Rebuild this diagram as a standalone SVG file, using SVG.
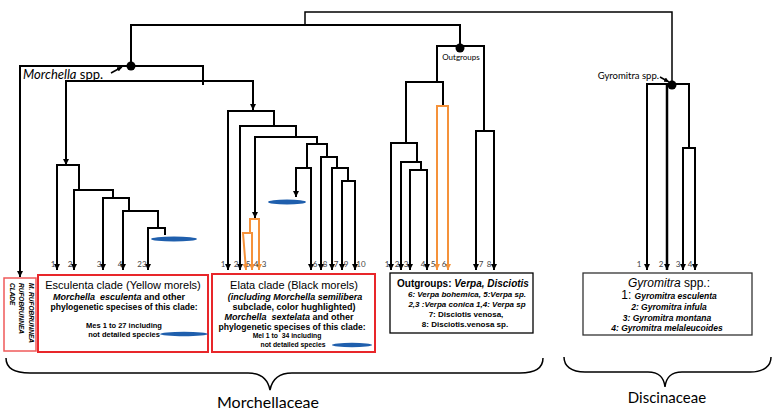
<svg xmlns="http://www.w3.org/2000/svg" width="779" height="411" viewBox="0 0 779 411">
<style>
.ln{fill:none;stroke:#000;stroke-width:2}
.lt{fill:none;stroke:#000;stroke-width:1.5}
.a{marker-end:url(#ah)}
.or{fill:none;stroke:#f5923a;stroke-width:2;marker-end:url(#ao)}
.lab{font-family:Lato,"Open Sans",sans-serif;font-size:8px;fill:#444;text-anchor:middle}
.box{font-family:"Liberation Sans",Arial,sans-serif;text-anchor:middle;fill:#000}
.b{font-weight:bold}
.i{font-style:italic}
.dot{fill:#000}
.blue{fill:#1f5fad}
</style>
<defs>
<marker id="ah" viewBox="0 0 8 8" refX="8" refY="4" markerWidth="6" markerHeight="6" orient="auto" markerUnits="userSpaceOnUse"><path d="M0,0 L8,4 L0,8 z" fill="#000"/></marker>
<marker id="ao" viewBox="0 0 8 8" refX="8" refY="4" markerWidth="6" markerHeight="6" orient="auto" markerUnits="userSpaceOnUse"><path d="M0,0 L8,4 L0,8 z" fill="#f5923a"/></marker>
<marker id="as" viewBox="0 0 8 8" refX="8" refY="4" markerWidth="5" markerHeight="5" orient="auto" markerUnits="userSpaceOnUse"><path d="M0,0 L8,4 L0,8 z" fill="#000"/></marker>
</defs>

<g id="connectors">
  <!-- top level -->
  <path class="lt" d="M305,25 V12 H672 V85"/>
  <path class="ln" d="M131,66 V25 H460 V48"/>
  <!-- Morchella -->
  <path class="ln a" d="M203,85 V66 H20 V277"/>
  <path class="ln a" d="M160,81 H66 V165"/>
  <path class="ln a" d="M160,81 H253 V110"/>
  <!-- Esculenta -->
  <path class="ln a" d="M79,190 V165 H57 V270"/>
  <path class="ln a" d="M113,198 V190 H74 V270"/>
  <path class="ln a" d="M129,211 V198 H103 V270"/>
  <path class="ln a" d="M158,228 V211 H123 V270"/>
  <path class="ln a" d="M165,235 V228 H148 V270"/>
  <!-- Elata -->
  <path class="ln a" d="M274,126 V111 H228 V270"/>
  <path class="ln a" d="M296,137 V126 H240 V270"/>
  <path class="ln a" d="M317,144 V137 H255 V218"/>
  <path class="ln" d="M327,157 V144 H307 V168"/>
  <path class="ln a" d="M303,168 H296 V197"/>
  <path class="ln a" d="M303,168 H311 V270"/>
  <path class="ln a" d="M337,168 V157 H321 V270"/>
  <path class="ln a" d="M348,181 V168 H332 V270"/>
  <path class="ln a" d="M348,181 H342 V270"/>
  <path class="ln a" d="M348,181 H355 V270"/>
  <path class="or" d="M250,233 V219 H259 V270"/>
  <path class="or" d="M248,233 H243 L246,270"/>
  <path class="or" d="M248,233 H252 V270"/>
  <!-- Outgroups -->
  <path class="ln" d="M437,82 V46 H484 V131"/>
  <path class="ln" d="M443,106 V82 H406 V143"/>
  <path class="or" d="M442,106 H437 V270"/>
  <path class="or" d="M442,106 H448 V270"/>
  <path class="ln a" d="M417,162 V143 H391 V270"/>
  <path class="ln a" d="M421,170 V162 H401 V270"/>
  <path class="ln a" d="M418,170 H410 V270"/>
  <path class="ln a" d="M418,170 H427 V270"/>
  <path class="ln a" d="M485,131 H476 V270"/>
  <path class="ln a" d="M485,131 H494 V270"/>
  <!-- Gyromitra -->
  <path class="ln a" d="M667,84 H647 V270"/>
  <path class="ln a" d="M667,84 V270" style="stroke-width:2.5"/>
  <path class="ln" d="M667,84 H689 V148"/>
  <path class="ln a" d="M689,148 H683 V270"/>
  <path class="ln a" d="M689,148 H695 V270"/>
  <!-- label pointers -->
  <path class="lt" d="M111,73 L122,67" style="marker-end:url(#as)"/>
  <path class="lt" d="M660,77 L669,82" style="marker-end:url(#as)"/>
</g>

<g id="node-morchella">
  <circle class="dot" cx="131" cy="66" r="4.5"/>
  <text x="23" y="79" font-family="Lato,'Open Sans',sans-serif" font-size="13"><tspan font-style="italic">Morchella</tspan> spp.</text>
</g>
<g id="node-outgroups">
  <circle class="dot" cx="460" cy="48" r="4.5"/>
  <text x="461" y="60" font-family="Lato,'Open Sans',sans-serif" font-size="8" text-anchor="middle">Outgroups</text>
</g>
<g id="node-gyromitra">
  <circle class="dot" cx="672" cy="85" r="4.5"/>
  <text x="659" y="79" font-family="Lato,'Open Sans',sans-serif" font-size="9.5" text-anchor="end">Gyromitra spp.</text>
</g>

<g id="blue-marks">
  <ellipse class="blue" cx="174" cy="239" rx="23" ry="2.5"/>
  <ellipse class="blue" cx="287" cy="202" rx="19" ry="2.5"/>
</g>

<g id="leaf-labels" class="lab">
  <text x="53" y="267">1</text><text x="70" y="267">2</text><text x="99" y="267">3</text><text x="120" y="267">4</text><text x="142" y="267">23</text>
  <text x="223" y="267">1</text><text x="236" y="267">2</text><text x="248" y="267">5</text><text x="256" y="267">4</text><text x="264" y="267">3</text>
  <text x="315" y="267">6</text><text x="325" y="267">8</text><text x="336" y="267">7</text><text x="346" y="267">9</text><text x="361" y="267">10</text>
  <text x="387" y="267">1</text><text x="397" y="267">2</text><text x="406" y="267">3</text><text x="423" y="267">4</text><text x="433" y="267">5</text><text x="444" y="267">6</text><text x="481" y="267">7</text><text x="489" y="267">8</text>
  <text x="639" y="267">1</text><text x="661" y="267">2</text><text x="678" y="267">3</text><text x="690" y="267">4</text>
</g>

<g id="box-rufobrunnea">
  <rect x="4" y="278" width="32" height="73" fill="#fff" stroke="#ef5a5a" stroke-width="1.5"/>
  <g transform="translate(28.5,283) rotate(90)" font-family="'Liberation Sans',Arial,sans-serif" font-size="6.5" font-weight="bold" font-style="italic">
    <text x="0" y="0">M. RUFOBRUNNEA</text>
    <text x="0" y="9.5">RUFOBRUNNEA</text>
    <text x="0" y="19">CLADE</text>
  </g>
</g>

<g id="box-esculenta">
  <rect x="38" y="275" width="170" height="77" fill="#fff" stroke="#e8262a" stroke-width="2"/>
  <text class="box" x="123" y="289" font-size="11">Esculenta clade (Yellow morels)</text>
  <text class="box b" x="119" y="300" font-size="9" xml:space="preserve"><tspan class="i">Morchella  esculenta</tspan> and other</text>
  <text class="box b" x="124" y="310" font-size="8.6">phylogenetic specises of this clade:</text>
  <text class="box b" x="124" y="328" font-size="7.5">Mes 1 to 27 including</text>
  <text class="box b" x="124" y="337" font-size="7.5">not detailed species</text>
  <ellipse class="blue" cx="184" cy="334" rx="24" ry="2.2"/>
</g>

<g id="box-elata">
  <rect x="212" y="274" width="163" height="78" fill="#fff" stroke="#e8262a" stroke-width="2"/>
  <text class="box" x="294" y="289" font-size="11">Elata clade (Black morels)</text>
  <text class="box b i" x="295" y="300" font-size="9">(including Morchella semilibera</text>
  <text class="box b" x="294" y="309.5" font-size="9">subclade, color hughlighted)</text>
  <text class="box b" x="289" y="320" font-size="9" xml:space="preserve"><tspan class="i">Morchella  sextelata</tspan> and other</text>
  <text class="box b" x="292" y="330" font-size="8.6">phylogenetic specises of this clade:</text>
  <text class="box b" x="287" y="338" font-size="6.8" xml:space="preserve">Mel 1 to  34 including</text>
  <text class="box b" x="293" y="347" font-size="6.8">not detailed species</text>
  <ellipse class="blue" cx="352" cy="345" rx="20" ry="2.2"/>
</g>

<g id="box-outgroups">
  <rect x="390" y="273" width="143" height="60" fill="#fff" stroke="#000" stroke-width="1.3"/>
  <text class="box b" x="463" y="287" font-size="10">Outgroups: <tspan class="i">Verpa, Disciotis</tspan></text>
  <text class="box b i" x="467" y="297" font-size="8">6: Verpa bohemica, 5:Verpa sp.</text>
  <text class="box b i" x="467" y="306.5" font-size="8">2,3 :Verpa conica 1,4: Verpa sp</text>
  <text class="box b" x="466" y="316.5" font-size="8">7: Disciotis venosa,</text>
  <text class="box b" x="465" y="327" font-size="8">8: Disciotis.venosa sp.</text>
</g>

<g id="box-gyromitra">
  <rect x="583" y="273" width="169" height="62" fill="#fff" stroke="#333" stroke-width="1.3"/>
  <text class="box" x="669" y="287" font-size="12"><tspan class="i">Gyromitra</tspan> spp.:</text>
  <text class="box" x="669" y="299" font-size="12">1: <tspan class="b i" font-size="8.5">Gyromitra esculenta</tspan></text>
  <text class="box b i" x="669" y="310" font-size="8.5">2: Gyromitra infula</text>
  <text class="box b i" x="667" y="321" font-size="8.5">3: Gyromitra montana</text>
  <text class="box b i" x="667" y="331" font-size="8.5">4: Gyromitra melaleucoides</text>
</g>

<g id="brace-morchellaceae">
  <path class="lt" d="M6,358 C6,368 14,373 30,373 H248 C262,373 268,380 270,390 C272,380 278,373 292,373 H520 C536,373 543,368 543,358"/>
  <text x="268" y="408" font-family="Lato,'Open Sans',sans-serif" font-size="16" text-anchor="middle">Morchellaceae</text>
</g>
<g id="brace-discinaceae">
  <path class="lt" d="M564,357 C564,366 571,372 585,372 H648 C660,372 664,378 665,387 C666,378 670,372 682,372 H750 C764,372 771,366 771,357"/>
  <text x="667" y="403" font-family="Lato,'Open Sans',sans-serif" font-size="15" text-anchor="middle">Discinaceae</text>
</g>
</svg>
